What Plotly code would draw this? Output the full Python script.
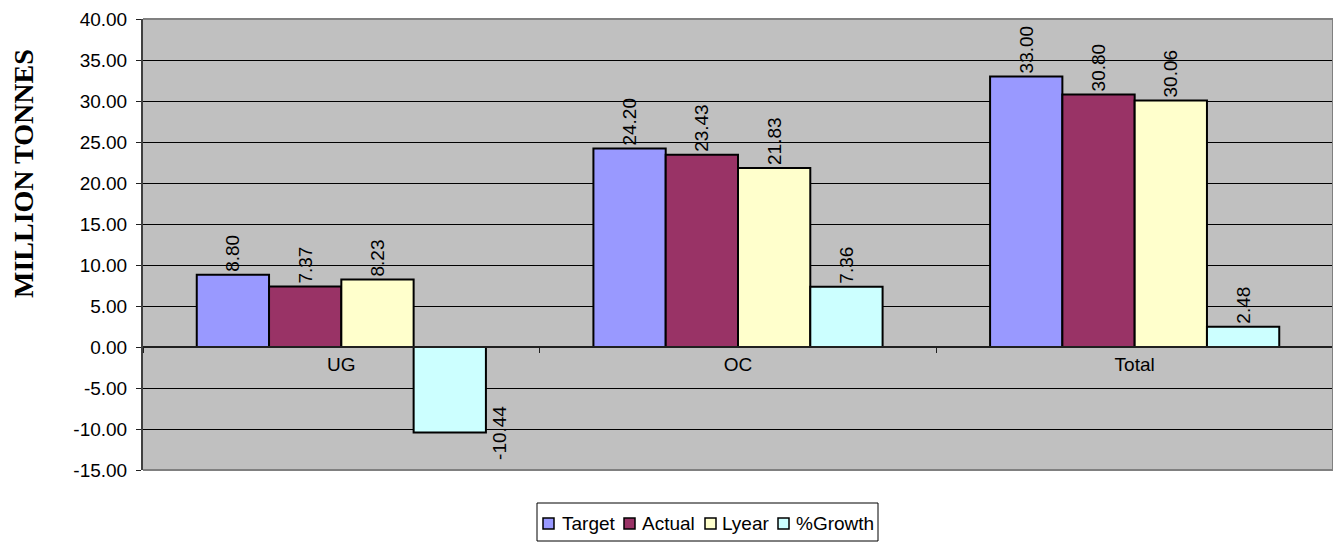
import plotly.graph_objects as go

categories = ["UG", "OC", "Total"]
series_names = ["Target", "Actual", "Lyear", "%Growth"]
target = [8.80, 24.20, 33.00]
actual = [7.37, 23.43, 30.80]
lyear = [8.23, 21.83, 30.06]
growth = [-10.44, 7.36, 2.48]
y_ticks = [-15, -10, -5, 0, 5, 10, 15, 20, 25, 30, 35, 40]

colors = ["#9999FF", "#993366", "#FFFFCC", "#CCFFFF"]
values = [target, actual, lyear, growth]

FONT = "Liberation Sans, Arial, sans-serif"
LABEL_SIZE = 19
BODY = 8  # default html body margin offsets the figure inside the page
W, H = 1341 - BODY, 542 - BODY
# plot area in page pixels
PX0, PX1, PY0, PY1 = 143, 1333, 19, 470
PW, PH = PX1 - PX0, PY1 - PY0


def px(x):  # page x pixel -> paper
    return (x - PX0) / PW


def py(y):  # page y pixel -> paper
    return (PY1 - y) / PH


fig = go.Figure()
annotations = []
for name, vals, col in zip(series_names, values, colors):
    fig.add_trace(go.Bar(
        name=name, x=categories, y=vals,
        marker=dict(color=col, line=dict(color="black", width=2)),
        text=[f"{v:.2f}" if v >= 0 else "" for v in vals], textposition="outside",
        textangle=-90, constraintext="none", cliponaxis=False,
        textfont=dict(family=FONT, size=LABEL_SIZE, color="black"),
        showlegend=False,
    ))
    # negative values: label sits beside the bar end (as in the original)
    for c, v in zip(categories, vals):
        if v < 0:
            annotations.append(dict(x=c, y=v, xref="x", yref="y", text=f"{v:.2f}",
                                    showarrow=False, textangle=-90, xshift=158,
                                    xanchor="center", yanchor="middle",
                                    font=dict(family=FONT, size=LABEL_SIZE, color="black")))

annotations.append(dict(text="<b>MILLION TONNES</b>", xref="paper", yref="paper",
                        x=px(24), y=py(174), xanchor="center", yanchor="middle",
                        textangle=-90, showarrow=False,
                        font=dict(family="Liberation Serif, Times New Roman, serif", size=28, color="black")))

shapes = [dict(type="line", xref="paper", yref="paper", x0=0, x1=1, y0=1, y1=1,
               line=dict(color="#808080", width=2)),
          dict(type="line", xref="paper", yref="paper", x0=1, x1=1, y0=0, y1=1,
               line=dict(color="#808080", width=2)),
          dict(type="line", xref="paper", yref="paper", x0=0, x1=1, y0=0, y1=0,
               line=dict(color="#808080", width=2))]

# legend box (drawn, to match the compact spreadsheet legend)
LEG_BOX = (537, 503, 878, 541)
LEG_SWATCH_X = [543, 624, 705, 778]
LEG_TEXT_X = [561, 641, 721, 795]
LEG_Y = 523
shapes.append(dict(type="rect", xref="paper", yref="paper",
                   x0=px(LEG_BOX[0]), x1=px(LEG_BOX[2]), y0=py(LEG_BOX[3]), y1=py(LEG_BOX[1]),
                   line=dict(color="black", width=1), fillcolor="white", layer="above"))
for name, col, sx, tx in zip(series_names, colors, LEG_SWATCH_X, LEG_TEXT_X):
    shapes.append(dict(type="rect", xref="paper", yref="paper",
                       x0=px(sx), x1=px(sx + 11), y0=py(LEG_Y + 6), y1=py(LEG_Y - 5),
                       line=dict(color="black", width=1.5), fillcolor=col, layer="above"))
    annotations.append(dict(text=name, xref="paper", yref="paper", x=px(tx), y=py(LEG_Y),
                            xanchor="left", yanchor="middle", showarrow=False, borderpad=0,
                            font=dict(family=FONT, size=19, color="black")))

ymin, ymax = y_ticks[0], y_ticks[-1]
fig.update_layout(
    width=W, height=H,
    margin=dict(l=PX0 - BODY, r=W - (PX1 - BODY), t=PY0 - BODY, b=H - (PY1 - BODY)),
    paper_bgcolor="white", plot_bgcolor="#C0C0C0",
    barmode="group", bargap=0.271, bargroupgap=0,
    font=dict(family=FONT, size=19, color="black"),
    showlegend=False,
    xaxis=dict(anchor="free", position=(0 - ymin) / (ymax - ymin), automargin=False,
               showline=True, linecolor="#202020", linewidth=2,
               ticks="outside", tickson="boundaries", ticklen=5, tickcolor="#202020",
               tickfont=dict(family=FONT, size=19), showgrid=False),
    yaxis=dict(range=[ymin, ymax], tickvals=y_ticks, ticktext=[f"{v:.2f}" for v in y_ticks],
               automargin=False,
               showgrid=True, gridcolor="black", gridwidth=1,
               zeroline=True, zerolinecolor="#202020", zerolinewidth=2,
               showline=True, linecolor="#404040", linewidth=2,
               ticks="outside", ticklen=5, tickcolor="#202020", ticklabelstandoff=5,
               tickfont=dict(family=FONT, size=19)),
    shapes=shapes,
    annotations=annotations,
)
fig.write_html("out.html")
